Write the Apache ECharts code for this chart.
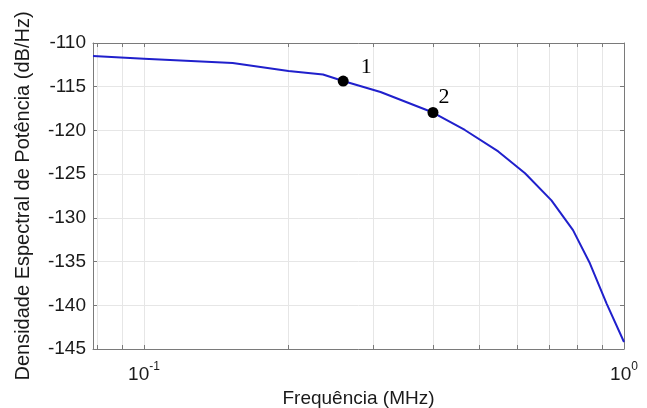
<!DOCTYPE html>
<html>
<head>
<meta charset="utf-8">
<script src="https://cdn.jsdelivr.net/npm/echarts@6/dist/echarts.min.js"></script>
<style>
html,body{margin:0;padding:0;background:#fff;}
#chart{width:647px;height:408px;}
</style>
</head>
<body>
<div id="chart"></div>
<script>
// Data (frequency in MHz, PSD in dB/Hz)
const freq = [0.0783, 0.1, 0.153, 0.2, 0.236, 0.26, 0.311, 0.40, 0.466, 0.547, 0.622, 0.706, 0.783, 0.849, 0.92, 1.0];
const psd  = [-111.5, -111.8, -112.3, -113.2, -113.6, -114.35, -115.6, -117.95, -119.95, -122.4, -124.9, -128.0, -131.4, -135.2, -139.8, -144.2];
const markFreq = [0.26, 0.40];
const markPsd = [-114.35, -117.95];
const markNames = ['1', '2'];
const xTicks = [0.08, 0.09, 0.1, 0.2, 0.3, 0.4, 0.5, 0.6, 0.7, 0.8, 0.9, 1];
const xLabels = [0.1, 1];
const xMin = 0.0783, xMax = 1;
const yMin = -145, yMax = -110, yStep = 5;

const chart = echarts.init(document.getElementById('chart'), null, {renderer: 'canvas'});
const axisColor = '#7a7a7a';
const gridColor = '#e6e6e6';
const font = 'Liberation Sans, Arial, sans-serif';

const labelOffsets = [[23, -14], [11, -15]];

const option = {
  animation: false,
  backgroundColor: '#ffffff',
  grid: {left: 93, right: 23, top: 43, bottom: 59, containLabel: false, outerBoundsMode: 'none'},
  xAxis: [
    {
      type: 'log', logBase: 10, min: xMin, max: xMax, position: 'bottom',
      name: 'Frequência (MHz)', nameLocation: 'middle', nameGap: 36,
      nameTextStyle: {fontFamily: font, fontSize: 19, color: '#1a1a1a', verticalAlign: 'top'},
      axisLine: {show: true, lineStyle: {color: axisColor, width: 1}},
      axisTick: {show: true, inside: true, length: 4, customValues: xTicks, lineStyle: {color: axisColor}},
      splitLine: {show: true, lineStyle: {color: gridColor, width: 1}},
      minorTick: {show: false}, minorSplitLine: {show: false},
      axisLabel: {
        customValues: xLabels, margin: 12,
        fontFamily: font, color: '#1a1a1a',
        formatter: function (v) { return v < 0.5 ? '{b|10}{s|-1}' : '{b|10}{s|0}'; },
        rich: {
          b: {fontFamily: font, fontSize: 19, color: '#1a1a1a'},
          s: {fontFamily: font, fontSize: 12, color: '#1a1a1a', padding: [0, 0, 15, 0]}
        }
      }
    },
    {
      type: 'log', logBase: 10, min: xMin, max: xMax, position: 'top',
      axisLine: {show: true, lineStyle: {color: axisColor, width: 1}},
      axisTick: {show: true, inside: true, length: 4, customValues: xTicks, lineStyle: {color: axisColor}},
      splitLine: {show: false}, axisLabel: {show: false}
    }
  ],
  yAxis: [
    {
      type: 'value', min: yMin, max: yMax, interval: yStep, position: 'left',
      name: 'Densidade Espectral de Potência (dB/Hz)', nameLocation: 'middle', nameGap: 60, nameRotate: 90,
      nameTextStyle: {fontFamily: font, fontSize: 20, color: '#1a1a1a'},
      axisLine: {show: true, lineStyle: {color: axisColor, width: 1}},
      axisTick: {show: true, inside: true, length: 4, lineStyle: {color: axisColor}},
      splitLine: {show: true, lineStyle: {color: gridColor, width: 1}},
      axisLabel: {fontFamily: font, fontSize: 19, color: '#1a1a1a', margin: 7}
    },
    {
      type: 'value', min: yMin, max: yMax, interval: yStep, position: 'right',
      axisLine: {show: true, lineStyle: {color: axisColor, width: 1}},
      axisTick: {show: true, inside: true, length: 4, lineStyle: {color: axisColor}},
      splitLine: {show: false}, axisLabel: {show: false}
    }
  ],
  series: [
    {
      type: 'line', xAxisIndex: 0, yAxisIndex: 0,
      data: freq.map((f, i) => [f, psd[i]]),
      showSymbol: false, symbol: 'none', smooth: false,
      lineStyle: {color: '#2020cc', width: 2},
      z: 3
    },
    {
      type: 'scatter', xAxisIndex: 0, yAxisIndex: 0,
      symbol: 'circle', symbolSize: 11,
      itemStyle: {color: '#000000', opacity: 1},
      data: markFreq.map((f, i) => ({
        value: [f, markPsd[i]], name: markNames[i],
        label: {
          show: true, formatter: markNames[i], position: 'inside',
          offset: labelOffsets[i],
          fontFamily: 'Liberation Serif, Times New Roman, serif', fontSize: 22, color: '#000000'
        }
      })),
      z: 4
    }
  ]
};
chart.setOption(option);
</script>
</body>
</html>
